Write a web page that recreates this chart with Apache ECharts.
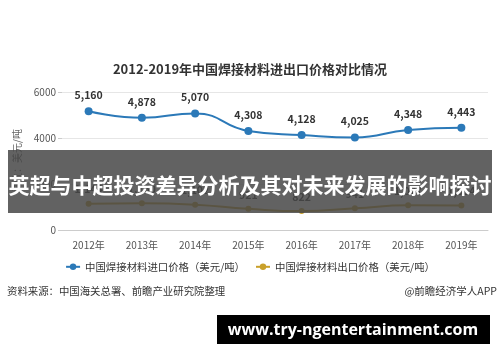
<!DOCTYPE html>
<html><head><meta charset="utf-8">
<script src="https://cdn.jsdelivr.net/npm/echarts@6/dist/echarts.min.js"></script>
<style>html,body{margin:0;padding:0;background:#fff}#c{width:500px;height:362px}</style>
</head><body><div id="c"></div>
<script>
const categories = ['2012年','2013年','2014年','2015年','2016年','2017年','2018年','2019年'];
const importPrice = [5160, 4878, 5070, 4308, 4128, 4025, 4348, 4443];
const exportPrice = [1144, 1160, 1102, 921, 822, 941, 1077, 1064];
const yTicks = {min: 0, max: 6000, interval: 2000};
const FONT = '"Noto Sans CJK SC", "Noto Sans", sans-serif';

const chart = echarts.init(document.getElementById('c'));
chart.setOption({
  backgroundColor: '#fff',
  textStyle: {fontFamily: FONT},
  title: {
    text: '2012-2019年中国焊接材料进出口价格对比情况',
    left: 'center', top: 58,
    textStyle: {fontSize: 13, fontWeight: 'bold', color: '#333', fontFamily: FONT}
  },
  grid: {left: 62, right: 12, top: 92, bottom: 132},
  legend: {
    bottom: 85, left: 'center', itemGap: 10, itemWidth: 14, itemHeight: 8,
    textStyle: {fontSize: 10.4, color: '#333', fontFamily: FONT},
    data: ['中国焊接材料进口价格（美元/吨）', '中国焊接材料出口价格（美元/吨）']
  },
  xAxis: {
    type: 'category', data: categories, boundaryGap: true,
    axisLine: {lineStyle: {color: '#ccc'}},
    axisTick: {alignWithLabel: true, lineStyle: {color: '#ccc'}},
    axisLabel: {fontSize: 10, color: '#555', margin: 10, fontFamily: FONT}
  },
  yAxis: {
    type: 'value', min: yTicks.min, max: yTicks.max, interval: yTicks.interval,
    name: '单位：美元/吨', nameLocation: 'middle', nameGap: 40, nameRotate: 90,
    nameTextStyle: {fontSize: 10, color: '#666', fontFamily: FONT},
    axisLine: {show: false},
    axisTick: {show: true, length: 4, lineStyle: {color: '#ccc'}},
    axisLabel: {fontSize: 10, color: '#555', margin: 6, fontFamily: FONT, formatter: v => String(v)},
    splitLine: {lineStyle: {color: '#e6e6e6'}}
  },
  series: [
    {
      name: '中国焊接材料进口价格（美元/吨）', type: 'line', data: importPrice, smooth: true,
      symbol: 'circle', symbolSize: 8,
      itemStyle: {color: '#2b79b8'}, lineStyle: {width: 2, color: '#2b79b8'},
      label: {show: true, position: 'top', distance: 7, fontSize: 10.5, fontWeight: 'bold', color: '#333',
        formatter: p => p.value.toLocaleString('en-US')}
    },
    {
      name: '中国焊接材料出口价格（美元/吨）', type: 'line', data: exportPrice, smooth: true,
      symbol: 'circle', symbolSize: 6,
      itemStyle: {color: '#c9a02a'}, lineStyle: {width: 2, color: '#c9a02a'},
      label: {show: true, position: 'top', distance: 6, fontSize: 10.5, fontWeight: 'bold', color: '#333',
        formatter: p => p.value.toLocaleString('en-US')}
    }
  ],
  graphic: [
    {type: 'text', left: 7, top: 286, style: {text: '资料来源：中国海关总署、前瞻产业研究院整理', fontSize: 10.4, fill: '#333', fontFamily: FONT}},
    {type: 'text', right: 3, top: 286, style: {text: '@前瞻经济学人APP', fontSize: 10.5, fill: '#333', fontFamily: FONT}},
    {type: 'rect', shape: {x: 8, y: 150, width: 484, height: 63}, style: {fill: 'rgba(70,70,70,0.85)'}, z: 100},
    {type: 'text', x: 250, y: 185, z: 101, style: {text: '英超与中超投资差异分析及其对未来发展的影响探讨', fontSize: 21, fontWeight: 'bold', fill: '#fff', align: 'center', verticalAlign: 'middle', fontFamily: FONT}},
    {type: 'rect', shape: {x: 217, y: 315, width: 273, height: 29}, style: {fill: '#000'}, z: 100},
    {type: 'text', x: 353, y: 330, z: 101, style: {text: 'www.try-ngentertainment.com', fontSize: 16, fontWeight: 'bold', fill: '#fff', align: 'center', verticalAlign: 'middle', fontFamily: '"Open Sans", "DejaVu Sans", sans-serif'}}
  ]
});
</script></body></html>
